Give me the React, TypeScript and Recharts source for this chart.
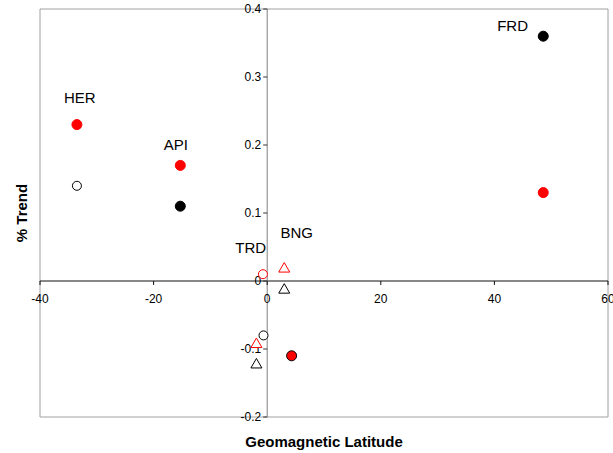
import { ScatterChart, Scatter, XAxis, YAxis, ReferenceArea, ReferenceLine, ReferenceDot, Label } from 'recharts';

// axis ticks
const xTicks = [-40, -20, 0, 20, 40, 60];
const yTicks = [0.4, 0.3, 0.2, 0.1, 0, -0.1, -0.2];

// points grouped by marker style (geomagnetic latitude, % trend)
const blackFilled = [
  { x: 48.6, y: 0.36 },
  { x: -15.3, y: 0.11 },
];
const redFilled = [
  { x: -33.5, y: 0.23 },
  { x: -15.3, y: 0.17 },
  { x: 48.6, y: 0.13 },
];
const blackOpenCircle = [
  { x: -33.5, y: 0.14 },
  { x: -0.65, y: -0.08 },
];
const redOpenCircle = [{ x: -0.75, y: 0.01 }];
const redOpenTriangle = [
  { x: 3.0, y: 0.019 },
  { x: -1.9, y: -0.092 },
];
const blackOpenTriangle = [
  { x: 3.0, y: -0.012 },
  { x: -1.9, y: -0.122 },
];
const redBlackEdge = [{ x: 4.3, y: -0.11 }];

// station labels
const stationNames = ['HER', 'API', 'TRD', 'BNG', 'FRD'];
const stationLabelX = [-33.0, -16.1, -2.9, 5.2, 43.2];
const stationLabelY = [0.269, 0.2, 0.049, 0.07, 0.375];

const font = '"Liberation Sans", Arial, sans-serif';

const circle = (fill: string, stroke: string, r = 5) => (p: any) => (
  <circle cx={p.cx} cy={p.cy} r={r} fill={fill} stroke={stroke} strokeWidth={1} />
);

const triangle = (stroke: string) => (p: any) => {
  const { cx, cy } = p;
  return (
    <polygon
      points={`${cx},${cy - 5.5} ${cx - 5.5},${cy + 4} ${cx + 5.5},${cy + 4}`}
      fill="#fff"
      stroke={stroke}
      strokeWidth={1}
    />
  );
};

export default function App() {
  return (
    <div style={{ width: 613, height: 453, background: '#fff' }}>
      <style>{'body{margin:0}'}</style>
      <ScatterChart width={613} height={453} margin={{ top: 9, right: 5, bottom: 0, left: 0 }}>
        <XAxis
          type="number"
          dataKey="x"
          domain={[-40, 60]}
          ticks={xTicks}
          height={36}
          axisLine={false}
          tickLine={false}
          tick={false}
        >
          <Label
            value="Geomagnetic Latitude"
            position="insideBottom"
            offset={6}
            style={{ fontFamily: font, fontSize: 15, fontWeight: 'bold', fill: '#000' }}
          />
        </XAxis>
        <YAxis
          type="number"
          dataKey="y"
          domain={[-0.2, 0.4]}
          ticks={yTicks}
          width={40}
          axisLine={false}
          tickLine={false}
          tick={false}
        >
          <Label
            value="% Trend"
            angle={-90}
            position="center"
            dx={2}
            style={{ fontFamily: font, fontSize: 15, fontWeight: 'bold', fill: '#000' }}
          />
        </YAxis>

        <ReferenceArea x1={-40} x2={60} y1={-0.2} y2={0.4} fill="none" stroke="#a0a0a0" strokeWidth={1} ifOverflow="visible" />
        <ReferenceLine y={0} stroke="#111" strokeWidth={1} ifOverflow="visible" />
        <ReferenceLine x={0} stroke="#808080" strokeWidth={1} ifOverflow="visible" />

        {xTicks.map((t) => (
          <ReferenceDot
            key={'xt' + t}
            x={t}
            y={0}
            ifOverflow="visible"
            shape={(p: any) => (
              <g>
                <line x1={p.cx} y1={p.cy} x2={p.cx} y2={p.cy + 4} stroke="#111" />
                <text x={p.cx} y={p.cy + 22} textAnchor="middle" fontFamily={font} fontSize={12} fill="#000">
                  {String(t)}
                </text>
              </g>
            )}
          />
        ))}
        {yTicks.map((t) => (
          <ReferenceDot
            key={'yt' + t}
            x={0}
            y={t}
            ifOverflow="visible"
            shape={(p: any) => (
              <g>
                <line x1={p.cx - 4} y1={p.cy} x2={p.cx} y2={p.cy} stroke="#333" />
                <text x={p.cx - 6} y={p.cy + 4} textAnchor="end" fontFamily={font} fontSize={12} fill="#000">
                  {String(t)}
                </text>
              </g>
            )}
          />
        ))}
        {stationNames.map((name, i) => (
          <ReferenceDot
            key={name}
            x={stationLabelX[i]}
            y={stationLabelY[i]}
            ifOverflow="visible"
            shape={(p: any) => (
              <text x={p.cx} y={p.cy + 5} textAnchor="middle" fontFamily={font} fontSize={15} fill="#000">
                {name}
              </text>
            )}
          />
        ))}

        <Scatter data={blackFilled} shape={circle('#000', '#000')} isAnimationActive={false} />
        <Scatter data={redFilled} shape={circle('#ff0000', '#ff0000')} isAnimationActive={false} />
        <Scatter data={blackOpenCircle} shape={circle('#fff', '#000', 4.5)} isAnimationActive={false} />
        <Scatter data={redOpenCircle} shape={circle('#fff', '#ff0000', 4.5)} isAnimationActive={false} />
        <Scatter data={redOpenTriangle} shape={triangle('#ff0000')} isAnimationActive={false} />
        <Scatter data={blackOpenTriangle} shape={triangle('#000')} isAnimationActive={false} />
        <Scatter data={redBlackEdge} shape={circle('#ff0000', '#000')} isAnimationActive={false} />
      </ScatterChart>
    </div>
  );
}
